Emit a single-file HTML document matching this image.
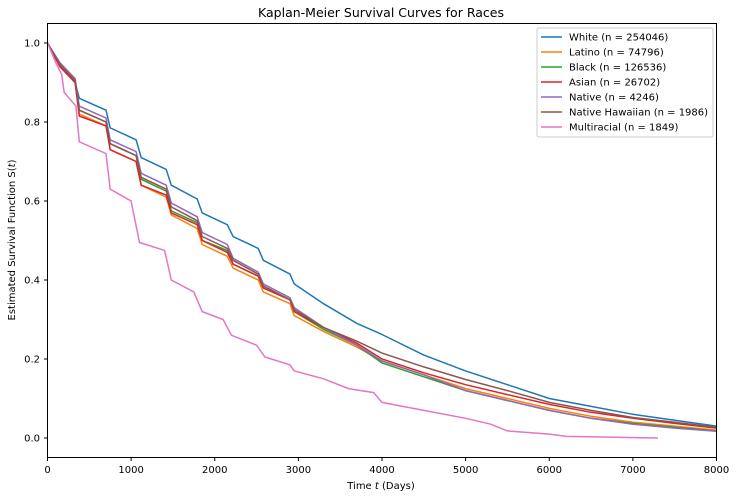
<!DOCTYPE html>
<html><head><meta charset="utf-8"><style>
body{margin:0;background:#fff;}
svg{display:block;font-family:"DejaVu Sans","Liberation Sans",sans-serif;}
</style></head><body>
<svg id="chart" width="736" height="500">
<text x="381" y="17" text-anchor="middle" font-size="12.5">Kaplan-Meier Survival Curves for Races</text>
<text transform="translate(15,240) rotate(-90)" text-anchor="middle" font-size="10">Estimated Survival Function S(<tspan font-style="italic">t</tspan>)</text>
<text x="381" y="489" text-anchor="middle" font-size="10">Time <tspan font-style="italic">t</tspan> (Days)</text>
<g id="ticks"></g>
<g id="series"></g>
<rect x="47.5" y="23.5" width="669" height="434" fill="none" stroke="#000" stroke-width="1"/>
<g id="legend"></g>
</svg>
<script>
const xTicks=[0,1000,2000,3000,4000,5000,6000,7000,8000];
const yTicks=[0.0,0.2,0.4,0.6,0.8,1.0];
const names=["White (n = 254046)","Latino (n = 74796)","Black (n = 126536)","Asian (n = 26702)","Native (n = 4246)","Native Hawaiian (n = 1986)","Multiracial (n = 1849)"];
const colors=["#1f77b4","#ff7f0e","#2ca02c","#d62728","#9467bd","#8c564b","#e377c2"];
const times=[0,150,330,380,700,750,1060,1120,1420,1480,1790,1850,2150,2220,2520,2580,2900,2950,3300,3700,4000,4500,5000,5500,6000,6500,7000,7500,8000];
const sWhite =[1,0.94,0.90,0.86,0.83,0.785,0.755,0.71,0.68,0.64,0.605,0.57,0.54,0.51,0.48,0.45,0.415,0.39,0.34,0.29,0.262,0.21,0.17,0.135,0.10,0.08,0.06,0.045,0.03];
const sLatino=[1,0.94,0.90,0.82,0.79,0.73,0.70,0.64,0.61,0.565,0.53,0.49,0.46,0.43,0.40,0.37,0.34,0.31,0.27,0.23,0.195,0.16,0.125,0.10,0.075,0.055,0.04,0.03,0.02];
const sBlack =[1,0.945,0.905,0.83,0.80,0.745,0.715,0.655,0.625,0.575,0.545,0.50,0.475,0.44,0.41,0.38,0.35,0.32,0.275,0.235,0.19,0.155,0.12,0.095,0.07,0.05,0.037,0.027,0.018];
const sAsian =[1,0.94,0.90,0.815,0.79,0.73,0.70,0.64,0.615,0.57,0.54,0.50,0.47,0.44,0.41,0.38,0.35,0.32,0.28,0.24,0.20,0.165,0.135,0.11,0.085,0.065,0.05,0.037,0.025];
const sNative=[1,0.95,0.91,0.84,0.81,0.755,0.725,0.67,0.64,0.595,0.56,0.52,0.49,0.455,0.42,0.39,0.355,0.33,0.28,0.235,0.195,0.16,0.12,0.095,0.07,0.05,0.035,0.025,0.017];
const sHawaii=[1,0.945,0.905,0.83,0.80,0.745,0.715,0.66,0.63,0.585,0.55,0.51,0.48,0.45,0.415,0.385,0.35,0.325,0.28,0.245,0.215,0.18,0.148,0.12,0.09,0.07,0.052,0.04,0.027];
const tMulti=[0,100,170,200,340,380,700,750,1000,1100,1400,1480,1750,1850,2100,2200,2500,2600,2900,2950,3300,3600,3900,4000,4500,5000,5300,5500,6000,6200,7300];
const sMulti=[1,0.95,0.92,0.875,0.84,0.75,0.72,0.63,0.60,0.495,0.475,0.40,0.37,0.32,0.30,0.26,0.235,0.205,0.185,0.17,0.15,0.125,0.115,0.09,0.07,0.05,0.035,0.018,0.01,0.004,0.0];
const seriesT=[times,times,times,times,times,times,tMulti];
const seriesS=[sWhite,sLatino,sBlack,sAsian,sNative,sHawaii,sMulti];
const X=t=>47.5+t*(669/8000);
const Y=s=>438-s*395;
const NS="http://www.w3.org/2000/svg";
const tg=document.getElementById('ticks');
xTicks.forEach(t=>{
  const l=document.createElementNS(NS,'line');
  l.setAttribute('x1',X(t));l.setAttribute('x2',X(t));l.setAttribute('y1',457.5);l.setAttribute('y2',461);l.setAttribute('stroke','#000');
  
  
  tg.appendChild(l);
  const tx=document.createElementNS(NS,'text');
  tx.setAttribute('x',X(t));tx.setAttribute('y',473);tx.setAttribute('text-anchor','middle');tx.setAttribute('font-size','10');
  tx.textContent=t;
  
  
  tg.appendChild(tx);
});
yTicks.forEach(v=>{
  const l=document.createElementNS(NS,'line');
  l.setAttribute('x1',44);l.setAttribute('x2',47.5);l.setAttribute('y1',Y(v));l.setAttribute('y2',Y(v));l.setAttribute('stroke','#000');
  
  
  tg.appendChild(l);
  const tx=document.createElementNS(NS,'text');
  tx.setAttribute('x',40);tx.setAttribute('y',Y(v)+3.5);tx.setAttribute('text-anchor','end');tx.setAttribute('font-size','10');
  tx.textContent=v.toFixed(1);
  
  
  tg.appendChild(tx);
});
const sg=document.getElementById('series');
const lg=document.getElementById('legend');
const box=document.createElementNS(NS,'rect');
box.setAttribute('x',537);box.setAttribute('y',28);box.setAttribute('width',176);box.setAttribute('height',109);box.setAttribute('rx',2);
box.setAttribute('fill','#fff');box.setAttribute('fill-opacity','0.8');box.setAttribute('stroke','#ccc');


lg.appendChild(box);
seriesS.forEach((s,i)=>{
  const ts=seriesT[i];
  const p=document.createElementNS(NS,'polyline');
  p.setAttribute('points',s.map((v,j)=>X(ts[j]).toFixed(1)+','+Y(v).toFixed(1)).join(' '));
  p.setAttribute('fill','none');p.setAttribute('stroke',colors[i]);p.setAttribute('stroke-width','1.5');
  
  
  sg.appendChild(p);
  const yy=37+i*15;
  const l=document.createElementNS(NS,'line');
  l.setAttribute('x1',541);l.setAttribute('x2',562);l.setAttribute('y1',yy);l.setAttribute('y2',yy);l.setAttribute('stroke',colors[i]);l.setAttribute('stroke-width','1.5');
  
  
  lg.appendChild(l);
  const tx=document.createElementNS(NS,'text');
  tx.setAttribute('x',569);tx.setAttribute('y',yy+3.5);tx.setAttribute('font-size','10');
  tx.textContent=names[i];
  
  
  lg.appendChild(tx);
});
</script>
</body></html>
